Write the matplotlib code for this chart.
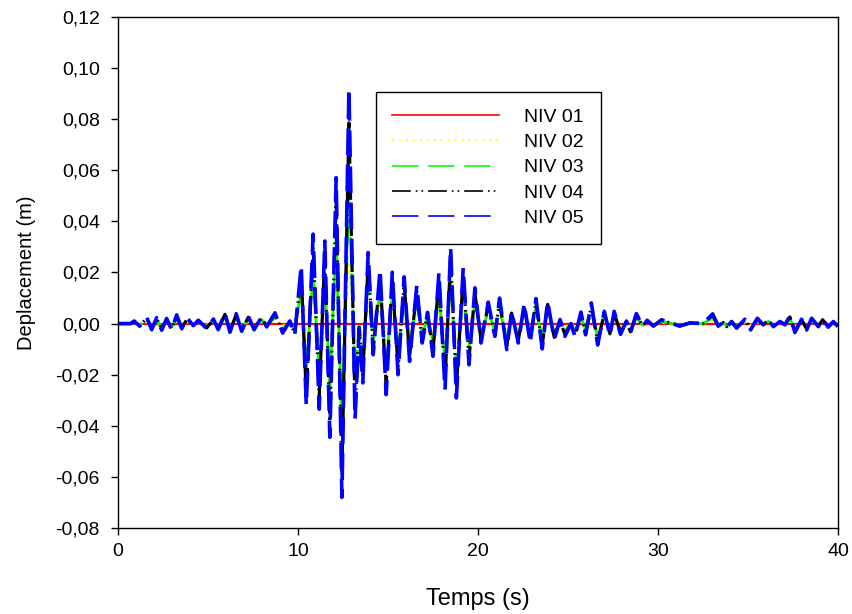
import matplotlib
matplotlib.use('Agg')
import matplotlib.pyplot as plt

plt.rcParams['font.family'] = ['Liberation Sans', 'DejaVu Sans']
plt.rcParams['lines.scale_dashes'] = False
plt.rcParams['lines.dash_joinstyle'] = 'round'
plt.rcParams['lines.solid_joinstyle'] = 'round'

# temps des extrema (s)
temps = [0.0, 0.7, 0.9, 1.2, 1.6, 1.87, 2.15, 2.43, 2.7, 2.98, 3.26, 3.54, 3.85, 4.18, 4.46,
         4.93, 5.3, 5.57, 5.94, 6.22, 6.56, 6.87, 7.24, 7.56, 7.98, 8.26, 8.72, 9.15, 9.55, 9.82,
         10.18, 10.46, 10.84, 11.18, 11.49, 11.77, 12.12, 12.44, 12.83, 13.17, 13.4, 13.6,
         13.9, 14.18, 14.56, 14.9, 15.24, 15.56, 15.9, 16.2, 16.6, 16.9, 17.2, 17.5, 17.83,
         18.17, 18.48, 18.8, 19.18, 19.5, 19.83, 20.17, 20.57, 20.94,
         21.2, 21.6, 21.87, 22.24, 22.57, 22.9, 23.22, 23.57, 23.87, 24.24, 24.56, 24.83,
         25.17, 25.39, 25.72, 25.98, 26.3, 26.65, 27.02, 27.33, 27.57, 27.92, 28.25, 28.47,
         28.8, 29.15, 29.4, 29.74, 30.2, 31.2, 31.8, 32.5,
         33.04, 33.35, 33.63, 33.82, 34.09, 34.37, 34.83, 35.15, 35.52, 35.85, 36.13, 36.41,
         36.78, 37.06, 37.33, 37.61, 37.98, 38.26, 38.54, 38.91, 39.15, 39.46, 39.74, 40.0]

niv05 = [0.0, 0.0, 0.0010, -0.0010, 0.0024, -0.0024, 0.0023, -0.0026, 0.0020, -0.0024, 0.0034,
         -0.0020, 0.0022, -0.0008, 0.0013, -0.0020, 0.0018, -0.0024, 0.0042, -0.0034, 0.0039,
         -0.0030, 0.0029, -0.0024, 0.0026, -0.0013, 0.0042, -0.0037, 0.0010, -0.0045,
         0.0227, -0.0320, 0.0350, -0.0335, 0.0323, -0.0445, 0.0571, -0.0680, 0.0920, -0.0373,
         -0.0017, -0.0232, 0.0278, -0.0122, 0.0212, -0.0278, 0.0201, -0.0200, 0.0183, -0.0148,
         0.0149, -0.0076, 0.0044, -0.0128, 0.0199, -0.0259, 0.0299, -0.0291, 0.0218, -0.0161,
         0.0140, -0.0076, 0.0084, -0.0050,
         0.0100, -0.0102, 0.0048, -0.0076, 0.0078, -0.0076, 0.0098, -0.0099, 0.0087, -0.0063,
         0.0016, -0.0050, 0.0000, -0.0053, 0.0045, -0.0044, 0.0081, -0.0084, 0.0048, -0.0047,
         0.0048, -0.0042, 0.0010, -0.0037, 0.0039, -0.0010, 0.0013, -0.0010, 0.0015, -0.0010,
         0.0003, 0.0000,
         0.0038, -0.0010, 0.0005, -0.0014, 0.0008, -0.0018, 0.0017, -0.0025, 0.0021, -0.0005,
         0.0015, -0.0012, 0.0008, -0.0005, 0.0030, -0.0035, 0.0017, -0.0025, 0.0021, -0.0012,
         0.0017, -0.0014, 0.0008, -0.0012]

niv04 = [0.0, 0.0, 0.0009, -0.0009, 0.0021, -0.0021, 0.0020, -0.0022, 0.0017, -0.0021, 0.0029,
         -0.0017, 0.0019, -0.0007, 0.0011, -0.0017, 0.0015, -0.0021, 0.0036, -0.0029, 0.0034,
         -0.0026, 0.0025, -0.0021, 0.0022, -0.0011, 0.0036, -0.0032, 0.0009, -0.0039,
         0.0195, -0.0275, 0.0301, -0.0288, 0.0278, -0.0383, 0.0491, -0.0595, 0.0785, -0.0321,
         -0.0015, -0.0200, 0.0239, -0.0105, 0.0182, -0.0239, 0.0173, -0.0172, 0.0157, -0.0127,
         0.0128, -0.0065, 0.0038, -0.0110, 0.0171, -0.0223, 0.0257, -0.0250, 0.0187, -0.0138,
         0.0120, -0.0065, 0.0072, -0.0043,
         0.0086, -0.0088, 0.0041, -0.0065, 0.0067, -0.0065, 0.0084, -0.0085, 0.0075, -0.0054,
         0.0014, -0.0043, 0.0000, -0.0046, 0.0039, -0.0038, 0.0070, -0.0072, 0.0041, -0.0040,
         0.0041, -0.0036, 0.0009, -0.0032, 0.0034, -0.0009, 0.0011, -0.0009, 0.0013, -0.0009,
         0.0003, 0.0000,
         0.0033, -0.0009, 0.0004, -0.0012, 0.0007, -0.0015, 0.0015, -0.0021, 0.0018, -0.0004,
         0.0013, -0.0010, 0.0007, -0.0004, 0.0026, -0.0030, 0.0015, -0.0021, 0.0018, -0.0010,
         0.0015, -0.0012, 0.0007, -0.0010]

niv03 = [0.0, 0.0, 0.0006, -0.0006, 0.0014, -0.0014, 0.0013, -0.0015, 0.0012, -0.0014, 0.0020,
         -0.0012, 0.0013, -0.0005, 0.0008, -0.0012, 0.0010, -0.0014, 0.0024, -0.0020, 0.0023,
         -0.0017, 0.0017, -0.0014, 0.0015, -0.0008, 0.0024, -0.0021, 0.0006, -0.0026,
         0.0132, -0.0186, 0.0203, -0.0194, 0.0187, -0.0258, 0.0331, -0.0420, 0.0530, -0.0216,
         -0.0010, -0.0135, 0.0161, -0.0071, 0.0123, -0.0161, 0.0117, -0.0116, 0.0106, -0.0086,
         0.0086, -0.0044, 0.0026, -0.0074, 0.0115, -0.0150, 0.0173, -0.0169, 0.0126, -0.0093,
         0.0081, -0.0044, 0.0049, -0.0029,
         0.0058, -0.0059, 0.0028, -0.0044, 0.0045, -0.0044, 0.0057, -0.0057, 0.0050, -0.0037,
         0.0009, -0.0029, 0.0000, -0.0031, 0.0026, -0.0026, 0.0047, -0.0049, 0.0028, -0.0027,
         0.0028, -0.0024, 0.0006, -0.0021, 0.0023, -0.0006, 0.0008, -0.0006, 0.0009, -0.0006,
         0.0002, 0.0000,
         0.0022, -0.0006, 0.0003, -0.0008, 0.0005, -0.0010, 0.0010, -0.0015, 0.0012, -0.0003,
         0.0009, -0.0007, 0.0005, -0.0003, 0.0017, -0.0020, 0.0010, -0.0015, 0.0012, -0.0007,
         0.0010, -0.0008, 0.0005, -0.0007]

niv02 = [0.0, 0.0, 0.0003, -0.0003, 0.0006, -0.0006, 0.0006, -0.0007, 0.0005, -0.0006, 0.0009,
         -0.0005, 0.0006, -0.0002, 0.0003, -0.0005, 0.0005, -0.0006, 0.0011, -0.0009, 0.0010,
         -0.0008, 0.0007, -0.0006, 0.0007, -0.0003, 0.0011, -0.0009, 0.0003, -0.0011,
         0.0057, -0.0080, 0.0088, -0.0084, 0.0081, -0.0111, 0.0143, -0.0170, 0.0230, -0.0093,
         -0.0004, -0.0058, 0.0070, -0.0031, 0.0053, -0.0070, 0.0050, -0.0050, 0.0046, -0.0037,
         0.0037, -0.0019, 0.0011, -0.0032, 0.0050, -0.0065, 0.0075, -0.0073, 0.0055, -0.0040,
         0.0035, -0.0019, 0.0021, -0.0013,
         0.0025, -0.0026, 0.0012, -0.0019, 0.0020, -0.0019, 0.0025, -0.0025, 0.0022, -0.0016,
         0.0004, -0.0013, 0.0000, -0.0013, 0.0011, -0.0011, 0.0020, -0.0021, 0.0012, -0.0012,
         0.0012, -0.0011, 0.0003, -0.0009, 0.0010, -0.0003, 0.0003, -0.0003, 0.0004, -0.0003,
         0.0001, 0.0000,
         0.0010, -0.0003, 0.0001, -0.0004, 0.0002, -0.0005, 0.0004, -0.0006, 0.0005, -0.0001,
         0.0004, -0.0003, 0.0002, -0.0001, 0.0008, -0.0009, 0.0004, -0.0006, 0.0005, -0.0003,
         0.0004, -0.0004, 0.0002, -0.0003]

# NIV 01 reste sur zero
temps01 = [0.0, 40.0]
niv01 = [0.0, 0.0]

labels = ['NIV 01', 'NIV 02', 'NIV 03', 'NIV 04', 'NIV 05']
x_ticks = [0, 10, 20, 30, 40]
y_ticks = [-0.08, -0.06, -0.04, -0.02, 0.0, 0.02, 0.04, 0.06, 0.08, 0.10, 0.12]
y_tick_labels = ['-0,08', '-0,06', '-0,04', '-0,02', '0,00', '0,02', '0,04', '0,06',
                 '0,08', '0,10', '0,12']


def plot_figure():
    fig = plt.figure(figsize=(8.52, 6.14), dpi=100)
    ax = fig.add_axes([0.1385, 0.140, 0.845, 0.8325])

    ax.plot(temps01, niv01, color='#ff0000', lw=1.6, label=labels[0])
    ax.plot(temps, niv02, color='#ffff00', lw=1.6, dashes=(1.5, 3.5), label=labels[1])
    ax.plot(temps, niv03, color='#00ff00', lw=2.0, dashes=(19, 7), label=labels[2])
    ax.plot(temps, niv04, color='#000000', lw=2.3,
            dashes=(13.5, 3.6, 1.2, 2.9, 1.2, 3.6), label=labels[3])
    ax.plot(temps, niv05, color='#0000ff', lw=2.6, dashes=(19, 7), label=labels[4])

    ax.set_xlim(0, 40)
    ax.set_ylim(-0.08, 0.12)
    ax.set_xticks(x_ticks)
    ax.set_yticks(y_ticks)
    ax.set_yticklabels(y_tick_labels)
    ax.tick_params(direction='out', length=5, width=1, labelsize=14)
    ax.tick_params(axis='y', pad=8)
    ax.tick_params(axis='x', pad=6)
    for s in ax.spines.values():
        s.set_linewidth(1)

    ax.set_xlabel('Temps (s)', fontsize=17, labelpad=20)
    ax.set_ylabel('Deplacement (m)', fontsize=14.5, labelpad=14)

    leg = ax.legend(loc='upper left', bbox_to_anchor=(0.358, 0.854), fontsize=14,
                    frameon=True, fancybox=False, edgecolor='black', framealpha=1,
                    handlelength=5.5, handletextpad=1.3, labelspacing=0.40,
                    borderpad=0.85, borderaxespad=0)
    leg.get_frame().set_linewidth(1)
    for line in leg.get_lines():
        line.set_linewidth(1.2)

    fig.savefig('out.png', dpi=100)


if __name__ == "__main__":
    plot_figure()
